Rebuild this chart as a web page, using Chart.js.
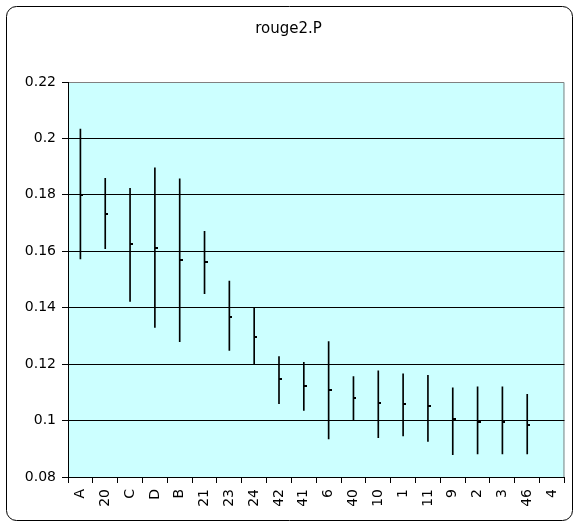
<!DOCTYPE html>
<html>
<head>
<meta charset="utf-8">
<script src="https://cdn.jsdelivr.net/npm/chart.js@4"></script>
<style>
  html, body { margin: 0; padding: 0; background: #fff; }
  #wrap { width: 575px; height: 523px; position: relative; }
</style>
</head>
<body>
<div id="wrap"><canvas id="myChart"></canvas></div>
<script>
const categories = ['A', '20', 'C', 'D', 'B', '21', '23', '24', '42', '41', '6', '40', '10', '1', '11', '9', '2', '3', '46', '4'];
const means = [0.1800, 0.1733, 0.1626, 0.1610, 0.1570, 0.1563, 0.1368, 0.1296, 0.1146, 0.1121, 0.1107, 0.1079, 0.1064, 0.1058, 0.1050, 0.1005, 0.0994, 0.0994, 0.0985, null];
const lows = [0.1573, 0.1609, 0.1422, 0.1330, 0.1280, 0.1450, 0.1249, 0.1198, 0.1060, 0.1036, 0.0935, 0.1001, 0.0939, 0.0946, 0.0926, 0.0879, 0.0882, 0.0882, 0.0882, null];
const highs = [0.2033, 0.1859, 0.1823, 0.1896, 0.1857, 0.1671, 0.1494, 0.1401, 0.1227, 0.1206, 0.1280, 0.1156, 0.1176, 0.1166, 0.1160, 0.1116, 0.1120, 0.1120, 0.1093, null];
const yTicks = [0.08, 0.1, 0.12, 0.14, 0.16, 0.18, 0.2, 0.22];

const ranges = categories.map((c, i) => lows[i] == null ? null : [lows[i], highs[i]]);

// frame + plot background
const framePlugin = {
  id: 'frame',
  beforeDraw(chart) {
    const { ctx, chartArea: a } = chart;
    ctx.save();
    ctx.fillStyle = '#ffffff';
    ctx.fillRect(0, 0, chart.width, chart.height);
    ctx.strokeStyle = '#000';
    ctx.lineWidth = 1;
    ctx.beginPath();
    ctx.roundRect(6.5, 6.5, 566, 514, 10);
    ctx.stroke();
    ctx.fillStyle = '#ccffff';
    ctx.fillRect(a.left, a.top, a.right - a.left, a.bottom - a.top);
    ctx.strokeStyle = '#808080';
    ctx.beginPath();
    ctx.moveTo(a.left, a.top + 0.5);
    ctx.lineTo(a.right - 0.5, a.top + 0.5);
    ctx.lineTo(a.right - 0.5, a.bottom);
    ctx.stroke();
    ctx.restore();
  }
};

// small mean markers to the right of each range line
const meanPlugin = {
  id: 'meanTicks',
  afterDatasetsDraw(chart) {
    const { ctx, scales } = chart;
    const meta = chart.getDatasetMeta(0);
    ctx.save();
    ctx.fillStyle = '#000';
    means.forEach((m, i) => {
      if (m == null) return;
      const x = meta.data[i].x;
      const y = scales.y.getPixelForValue(m);
      ctx.fillRect(Math.round(x), Math.round(y) - 1, 3, 2);
    });
    ctx.restore();
  }
};

const tickFont = { family: 'DejaVu Sans', size: 14 };

const myChart = new Chart(document.getElementById('myChart'), {
  type: 'bar',
  data: {
    labels: categories,
    datasets: [{
      label: 'rouge2.P',
      data: ranges,
      backgroundColor: '#000',
      borderWidth: 0,
      barThickness: 1,
      borderSkipped: false
    }]
  },
  options: {
    responsive: true,
    maintainAspectRatio: false,
    animation: false,
    layout: { padding: { top: 10, left: 8, right: 6, bottom: 0 } },
    plugins: {
      legend: { display: false },
      tooltip: { enabled: false },
      title: {
        display: true,
        text: 'rouge2.P',
        color: '#000',
        font: { family: 'DejaVu Sans', size: 15, weight: 'normal' },
        padding: { top: 10, bottom: 44 }
      }
    },
    scales: {
      x: {
        offset: true,
        grid: { offset: true, drawOnChartArea: false, drawTicks: true, tickLength: 6, color: '#000' },
        border: { color: '#000' },
        ticks: { color: '#000', font: tickFont, minRotation: 90, maxRotation: 90, autoSkip: false, padding: 6 },
        afterFit(scale) { scale.height = 46; }
      },
      y: {
        min: 0.08,
        max: 0.22,
        afterBuildTicks(scale) { scale.ticks = yTicks.map(v => ({ value: v })); },
        grid: {
          color: ctx => (ctx.tick && ctx.tick.value === 0.22) ? 'rgba(0,0,0,0)' : '#000',
          tickColor: '#000',
          tickLength: 6
        },
        border: { color: '#000' },
        ticks: { color: '#000', font: tickFont, padding: 6, callback: v => String(+v.toFixed(2)) },
        afterFit(scale) { scale.width = 60; }
      }
    }
  },
  plugins: [framePlugin, meanPlugin]
});
</script>
</body>
</html>
